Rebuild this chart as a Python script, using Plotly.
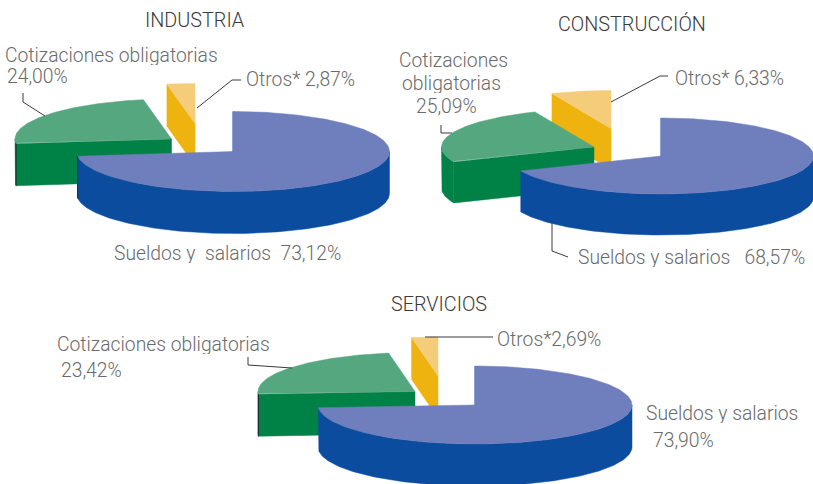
import numpy as np
import plotly.graph_objects as go

# ---- data ----
categories = ["Sueldos y salarios", "Cotizaciones obligatorias", "Otros*"]
industria = [73.12, 24.00, 2.87]
construccion = [68.57, 25.09, 6.33]
servicios = [73.90, 23.42, 2.69]
titles = ["INDUSTRIA", "CONSTRUCCIÓN", "SERVICIOS"]

# ---- presentation ----
TOP = ["#6f7fbd", "#55a780", "#f5cd7a"]
WALL = ["#0b4c9f", "#008145", "#efb30f"]
TXT = "#6a6a6a"
FONT = "Roboto"
NB = "\u00a0"

pies = [
    dict(values=industria, rx=156.5, ry=40, depth=42,
         apex=[(233, 151.5), (171.5, 139), (195, 123.5)], edges=[0, 1]),
    dict(values=construccion, rx=152.5, ry=38, depth=41,
         apex=[(661, 156), (594, 147), (611, 128.5)], edges=[]),
    dict(values=servicios, rx=157, ry=39, depth=42,
         apex=[(475, 405), (415, 391.5), (438, 376)], edges=[1]),
]

leaders = [
    ([23, 23, 45], [93, 102, 116]),
    ([197, 232, 241], [108, 80, 80]),
    ([441, 441, 452], [125, 133, 133]),
    ([611, 660, 668], [102, 76, 76]),
    ([552, 552, 568], [223, 251, 257]),
    ([248, 248, 292], [357, 365, 368]),
    ([425, 493], [337, 337]),
]

labels = [
    (6, 55, categories[1]),
    (8, 76, f"{industria[1]:.2f}%".replace(".", ",")),
    (247, 79, f"{categories[2]} {industria[2]:.2f}%".replace(".", ",")),
    (115, 253, f"Sueldos y{NB}{NB}salarios{NB}{NB}{industria[0]:.2f}%".replace(".", ",")),
    (400, 60, "Cotizaciones"),
    (403, 83, "obligatorias"),
    (417, 106, f"{construccion[1]:.2f}%".replace(".", ",")),
    (676, 78, f"{categories[2]} {construccion[2]:.2f}%".replace(".", ",")),
    (579, 257, f"Sueldos y{NB}salarios{NB}{NB}{NB}{construccion[0]:.2f}%".replace(".", ",")),
    (58, 344, categories[1]),
    (62, 370, f"{servicios[1]:.2f}%".replace(".", ",")),
    (498, 339, f"{categories[2]}{servicios[2]:.2f}%".replace(".", ",")),
    (647, 413, categories[0]),
    (654, 440, f"{servicios[0]:.2f}%".replace(".", ",")),
]
title_pos = [(195, 20), (632, 24), (439, 304)]

fig = go.Figure()


def poly(xs, ys, color):
    fig.add_trace(go.Scatter(x=xs, y=ys, mode="lines", fill="toself",
                             fillcolor=color, line=dict(color=color, width=0.5),
                             hoverinfo="skip", showlegend=False))


def arc(cx, cy, rx, ry, a, b, dy=0.0):
    t = np.radians(np.linspace(a, b, max(int(abs(b - a)) + 2, 2)))
    return cx + rx * np.sin(t), cy - ry * np.cos(t) + dy


for pie in pies:
    vals = np.array(pie["values"], float)
    ang = np.concatenate([[0], np.cumsum(vals) / vals.sum() * 360])
    rx, ry, d = pie["rx"], pie["ry"], pie["depth"]
    # paint far slices first, main slice last
    for i in [2, 1, 0]:
        a, b = ang[i], ang[i + 1]
        cx, cy = pie["apex"][i]
        # radial face on the slice's starting edge
        sx, sy = arc(cx, cy, rx, ry, a, a)
        sx, sy = sx[0], sy[0]
        poly([cx, sx, sx, cx, cx], [cy, sy, sy + d, cy + d, cy], WALL[i])
        # outer curved wall, front half only
        lo, hi = max(a, 90), min(b, 270)
        if hi > lo:
            x1, y1 = arc(cx, cy, rx, ry, lo, hi)
            x2, y2 = arc(cx, cy, rx, ry, lo, hi, d)
            poly(np.r_[x1, x2[::-1], x1[0]], np.r_[y1, y2[::-1], y1[0]], WALL[i])
        # top surface
        x, y = arc(cx, cy, rx, ry, a, b)
        poly(np.r_[cx, x, cx], np.r_[cy, y, cy], TOP[i])
        # dark hairline on the exposed left edge
        if i in pie["edges"]:
            ex, ey = arc(cx, cy, rx, ry, b if i == 0 else a, b if i == 0 else a)
            fig.add_trace(go.Scatter(x=[ex[0], ex[0]], y=[ey[0], ey[0] + d], mode="lines",
                                     line=dict(color="#1c2a30", width=1),
                                     hoverinfo="skip", showlegend=False))

for lx, ly in leaders:
    fig.add_trace(go.Scatter(x=lx, y=ly, mode="lines",
                             line=dict(color="#3a3a3a", width=1),
                             hoverinfo="skip", showlegend=False))

ann = [dict(x=x, y=y, text=t, xanchor="left", yanchor="middle", showarrow=False,
            xref="x", yref="y", xshift=-2, height=19, borderpad=0,
            font=dict(family=FONT, size=19.3, color=TXT, weight=300))
       for x, y, t in labels]
ann += [dict(x=p[0], y=p[1], text=t, xanchor="center", yanchor="middle", showarrow=False,
             xref="x", yref="y", font=dict(family=FONT, size=19.8, color="#3a3a3a", weight=300))
        for p, t in zip(title_pos, titles)]

fig.update_layout(
    width=813, height=484, autosize=False,
    margin=dict(l=0, r=0, t=0, b=0),
    paper_bgcolor="white", plot_bgcolor="white",
    xaxis=dict(range=[0, 813], visible=False, fixedrange=True),
    yaxis=dict(range=[484, 0], visible=False, fixedrange=True),
    annotations=ann, showlegend=False,
)
fig.write_html("out.html", config=dict(displayModeBar=False),
               post_script="document.body.style.margin='0';document.documentElement.style.overflow='hidden';")
